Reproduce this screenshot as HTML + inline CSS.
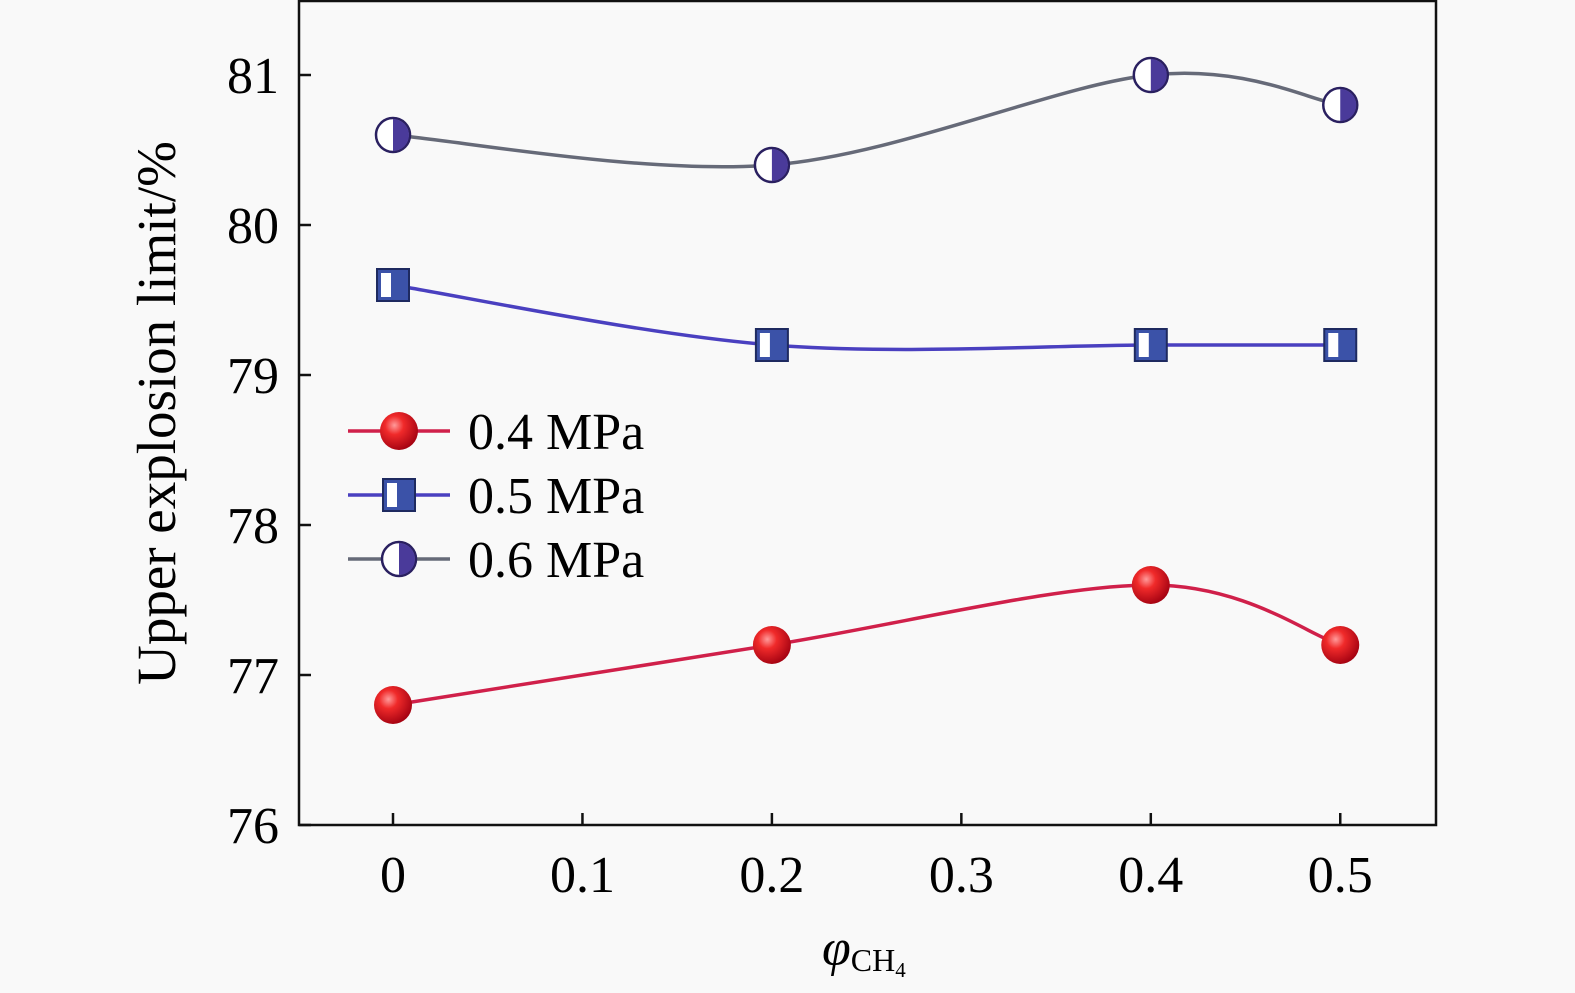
<!DOCTYPE html>
<html><head><meta charset="utf-8"><style>
body{margin:0;background:#f9f9f9;}
svg{display:block;font-family:"Liberation Serif",serif;}
</style></head><body>
<svg id="chart" width="1575" height="993" viewBox="0 0 1575 993">
<defs>
<radialGradient id="redball" cx="0.38" cy="0.35" r="0.7">
<stop offset="0" stop-color="#ff9a9a"/><stop offset="0.35" stop-color="#f02a2a"/><stop offset="1" stop-color="#a00010"/>
</radialGradient>
</defs>
<rect x="299" y="1" width="1137" height="824" fill="none" stroke="#111" stroke-width="2.5"/>
<g id="axes"></g>
<g id="series"></g>
<g id="legend"></g>
<text x="175" y="413" font-size="55" text-anchor="middle" transform="rotate(-90 175 413)">Upper explosion limit/%</text>
<text x="822" y="965" font-size="52" font-style="italic">φ<tspan font-size="32" font-style="normal" dy="6">CH</tspan><tspan font-size="21" font-style="normal" dy="6">4</tspan></text>
</svg>
<script>
const xCats=[0,0.2,0.4,0.5];
const xTicks=[0,0.1,0.2,0.3,0.4,0.5];
const yTicks=[76,77,78,79,80,81];
const s04=[76.8,77.2,77.6,77.2];
const s05=[79.6,79.2,79.2,79.2];
const s06=[80.6,80.4,81.0,80.8];
const seriesNames=["0.4 MPa","0.5 MPa","0.6 MPa"];
const NS="http://www.w3.org/2000/svg";
function X(v){return 393+v*1894.5;}
function Y(v){return 825-(v-76)*150;}
function mk(tag,attrs,parent){const e=document.createElementNS(NS,tag);for(const k in attrs)e.setAttribute(k,attrs[k]);parent.appendChild(e);return e;}
const axes=document.getElementById('axes');
xTicks.forEach(t=>{
 const l=mk('line',{x1:X(t),x2:X(t),y1:825,y2:813,stroke:'#111','stroke-width':2.5},axes);
 
 
 const tx=mk('text',{x:X(t),y:892,'font-size':52,'text-anchor':'middle'},axes);
 tx.textContent=String(t);
 
 
});
yTicks.forEach(t=>{
 const l=mk('line',{x1:299,x2:311,y1:Y(t),y2:Y(t),stroke:'#111','stroke-width':2.5},axes);
 
 
 const tx=mk('text',{x:279,y:Y(t)+18,'font-size':52,'text-anchor':'end'},axes);
 tx.textContent=String(t);
 
 
});
function smooth(pts){
 let d=`M${pts[0][0]},${pts[0][1]}`;
 for(let i=0;i<pts.length-1;i++){
  const p0=pts[Math.max(0,i-1)],p1=pts[i],p2=pts[i+1],p3=pts[Math.min(pts.length-1,i+2)];
  const c1=[p1[0]+(p2[0]-p0[0])/6,p1[1]+(p2[1]-p0[1])/6];
  const c2=[p2[0]-(p3[0]-p1[0])/6,p2[1]-(p3[1]-p1[1])/6];
  d+=` C${c1[0]},${c1[1]} ${c2[0]},${c2[1]} ${p2[0]},${p2[1]}`;
 }
 return d;
}
function marker(type,cx,cy,g){
 if(type===0){
  mk('circle',{cx,cy,r:19,fill:'url(#redball)'},g);
 }else if(type===1){
  mk('rect',{x:cx-16,y:cy-16,width:32,height:32,fill:'#3b52a8',stroke:'#1e2a60','stroke-width':2},g);
  mk('rect',{x:cx-12,y:cy-12,width:10,height:24,fill:'#fff'},g);
 }else{
  mk('circle',{cx,cy,r:17,fill:'#fff',stroke:'#2a2060','stroke-width':2.5},g);
  mk('path',{d:`M${cx},${cy-16} A16,16 0 0 1 ${cx},${cy+16} Z`,fill:'#4a3a9a'},g);
 }
}
const all=[s04,s05,s06];
const colors=['#d0204a','#4a40c0','#666a78'];
const sg=document.getElementById('series');
all.forEach((s,k)=>{
 const g=mk('g',{},sg);
 
 
 const pts=xCats.map((x,i)=>[X(x),Y(s[i])]);
 const p=mk('path',{d:smooth(pts),fill:'none',stroke:colors[k],'stroke-width':3.5},g);
 
 
 pts.forEach(q=>{
  const mg=mk('g',{},g);
  
  
  marker(k,q[0],q[1],mg);
 });
});
const lg=document.getElementById('legend');
seriesNames.forEach((n,k)=>{
 const y=431+k*64;
 const g=mk('g',{},lg);
 
 
 mk('line',{x1:348,x2:450,y1:y,y2:y,stroke:colors[k],'stroke-width':3.5},g);
 marker(k,399,y,g);
 const t=mk('text',{x:468,y:y+18,'font-size':52},g);
 t.textContent=n;
});
</script>
</body></html>
